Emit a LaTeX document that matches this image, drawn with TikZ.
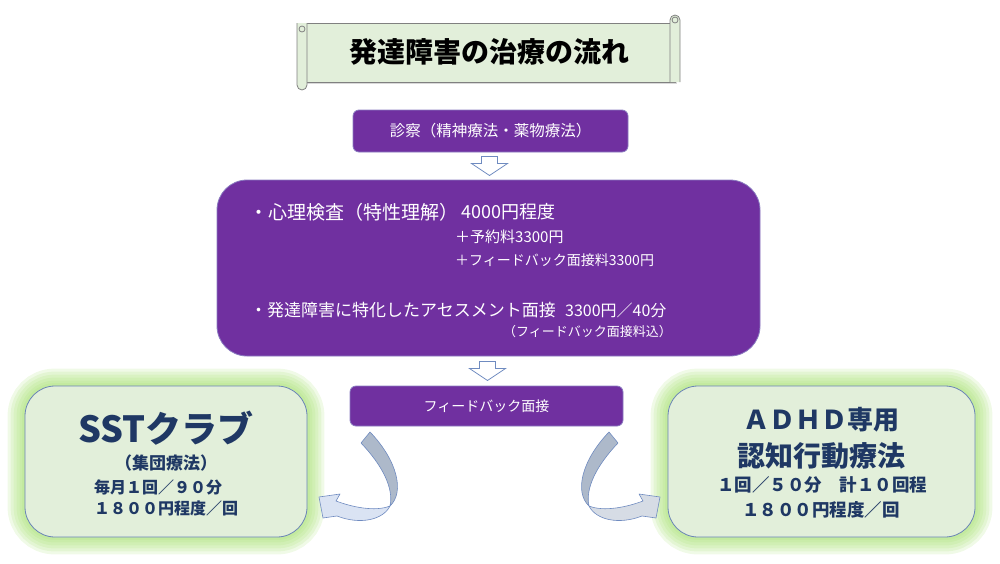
\documentclass[tikz,border=0pt]{standalone}
\usepackage{fontspec}
\setmainfont{Noto Sans CJK JP}
\usetikzlibrary{calc,shadows,backgrounds}

\definecolor{purp}{HTML}{7030A0}
\definecolor{purpline}{HTML}{8A7CC0}
\definecolor{palegreen}{HTML}{E2EFDA}
\definecolor{glowgreen}{HTML}{A6E070}
\definecolor{navy}{HTML}{1F3864}
\definecolor{boxline}{HTML}{6A84B6}
\definecolor{scrollline}{HTML}{808080}
\definecolor{arrowline}{HTML}{6F8BC0}
\definecolor{twistgray}{HTML}{ADB9CA}
\definecolor{twistblue}{HTML}{DAE3F3}
\definecolor{twistpale}{HTML}{D6DCE5}

\tikzset{
  purplebox/.style={fill=purp, draw=purpline, line width=0.8pt, text=white, inner sep=0pt},
  greenbox/.style={fill=palegreen, draw=boxline, line width=0.8pt, rounded corners=30pt,
    minimum width=282pt, minimum height=151pt, inner sep=0pt},
  glow/.style={draw=glowgreen, opacity=0.17, rounded corners=30pt},
  boxtext/.style={text=navy, inner sep=0pt},
  whitetext/.style={text=white, inner sep=0pt, anchor=west},
  scrollpart/.style={fill=palegreen, draw=scrollline, line width=0.8pt},
  twist/.style={draw=arrowline, line width=0.6pt, line join=round},
  blockarrow/.pic={
    \draw[fill=white, draw=arrowline, line width=0.8pt]
      (-8,-9.5) -- (8,-9.5) -- (8,-2.5) -- (18,-2.5) -- (0,9.5) -- (-18,-2.5) -- (-8,-2.5) -- cycle;
  }
}

\begin{document}
\begin{tikzpicture}[x=1pt, y=-1pt]
    \useasboundingbox (0,0) rectangle (1000,563);

    % Title scroll
    \filldraw[scrollpart, drop shadow={opacity=0.3, shadow xshift=2pt, shadow yshift=-2pt}]
        (302,23) rectangle (675,82);
    \filldraw[scrollpart, rounded corners=5pt] (297,23) -- (297,90) -- (307,90) -- (307,23);
    \filldraw[scrollpart, rounded corners=5pt] (670,82) -- (670,15) -- (680,15) -- (680,82);
    \draw[scrollline, line width=0.8pt] (302,29) circle[radius=3pt];
    \draw[scrollline, line width=0.8pt] (675,20) circle[radius=3pt];
    \node[font=\bfseries\fontsize{28}{30}\selectfont] (title) at (489,52) {発達障害の治療の流れ};

    % Consultation
    \node[purplebox, rounded corners=6pt, minimum width=275pt, minimum height=42pt,
        font=\fontsize{15.5}{17}\selectfont] (exam) at (490.5,131) {診察（精神療法・薬物療法）};

    % Tests
    \node[purplebox, rounded corners=30pt, minimum width=543pt, minimum height=176pt] (test) at (488.5,268) {};
    \node[whitetext, font=\fontsize{19}{21}\selectfont] (check) at (249.5,212) {・心理検査（特性理解）};
    \node[whitetext, font=\fontsize{18}{20}\selectfont] (checkfee) at (461,212) {4000円程度};
    \node[whitetext, font=\fontsize{15}{17}\selectfont] (rsvfee) at (455,237) {＋予約料3300円};
    \node[whitetext, font=\fontsize{14}{16}\selectfont] (fbfee) at (455,260) {＋フィードバック面接料3300円};
    \node[whitetext, font=\fontsize{17}{19}\selectfont] (assess) at (250,310) {・発達障害に特化したアセスメント面接};
    \node[whitetext, font=\fontsize{16}{18}\selectfont] (assessfee) at (565,310) {3300円／40分};
    \node[whitetext, anchor=east, font=\fontsize{13}{15}\selectfont] (assessnote) at (672,332) {（フィードバック面接料込）};

    \pic at ($(exam.south)!0.5!(test.north)$) {blockarrow};

    % Feedback
    \node[purplebox, rounded corners=6pt, minimum width=273pt, minimum height=40pt,
        font=\fontsize{14}{16}\selectfont] (fb) at (486.5,406) {フィードバック面接};

    \pic at ($(test.south)!0.5!(fb.north)$) {blockarrow};

    % SST club
    \node[greenbox] (sst) at (166,461.5) {};
    \node[boxtext, font=\bfseries\fontsize{36}{38}\selectfont] (sstname) at (166,428) {SSTクラブ};
    \node[boxtext, font=\bfseries\fontsize{17}{19}\selectfont] (sstkind) at (166,463) {（集団療法）};
    \node[boxtext, font=\bfseries\fontsize{16}{18}\selectfont] (sstfreq) at (166,487) {毎月１回／９０分　};
    \node[boxtext, font=\bfseries\fontsize{16}{18}\selectfont] (sstfee) at (166,508) {１８００円程度／回};

    % ADHD CBT
    \node[greenbox, minimum width=307pt] (adhd) at (821.5,461.5) {};
    \node[boxtext, font=\bfseries\fontsize{26}{28}\selectfont] (adhdname) at (821,420) {ＡＤＨＤ専用};
    \node[boxtext, font=\bfseries\fontsize{28}{30}\selectfont] (adhdkind) at (821,456) {認知行動療法};
    \node[boxtext, font=\bfseries\fontsize{17.5}{19}\selectfont] (adhdfreq) at (822,485) {１回／５０分　計１０回程};
    \node[boxtext, font=\bfseries\fontsize{17.5}{19}\selectfont] (adhdfee) at (821,510) {１８００円程度／回};

    \begin{scope}[on background layer]
        \foreach \w in {34,28,22,16,10,5} {
            \draw[glow, line width=\w pt] (sst.north west) rectangle (sst.south east);
            \draw[glow, line width=\w pt] (adhd.north west) rectangle (adhd.south east);
        }
    \end{scope}

    % Curved arrows
    \filldraw[twist, fill=twistgray] (361,443) -- (370,432) .. controls (397,460) and (405,492) .. (390,506)
        .. controls (394,488) and (382,465) .. (361,443) -- cycle;
    \filldraw[twist, fill=twistblue] (390,506) .. controls (375,512) and (352,507) .. (336,501)
        -- (340,494) -- (319,497) -- (323,518) -- (337,516) .. controls (360,525) and (383,520) .. (390,506) -- cycle;
    \begin{scope}[shift={(979,0)}, xscale=-1]
        \filldraw[twist, fill=twistgray] (361,443) -- (370,432) .. controls (397,460) and (405,492) .. (390,506)
            .. controls (394,488) and (382,465) .. (361,443) -- cycle;
        \filldraw[twist, fill=twistpale] (390,506) .. controls (375,512) and (352,507) .. (336,501)
            -- (340,494) -- (319,497) -- (323,518) -- (337,516) .. controls (360,525) and (383,520) .. (390,506) -- cycle;
    \end{scope}
\end{tikzpicture}
\end{document}
